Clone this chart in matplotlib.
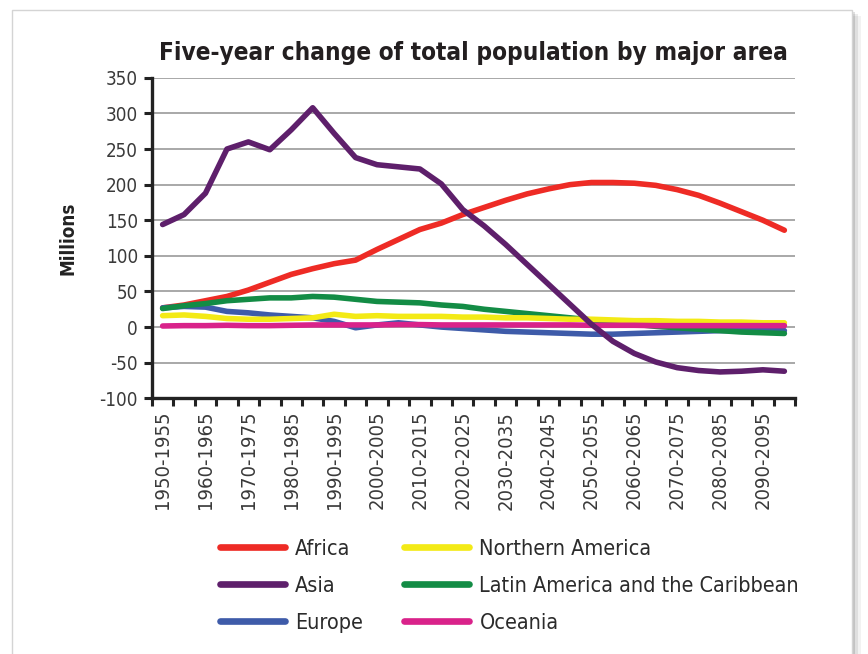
import numpy as np
import matplotlib
matplotlib.use("Agg")
import matplotlib.pyplot as plt
from matplotlib.patches import FancyBboxPatch

plt.rcParams["font.family"] = ["DejaVu Sans"]
plt.rcParams["font.stretch"] = "condensed"
plt.rcParams["axes.unicode_minus"] = False

START_YEARS = list(range(1950, 2100, 5))
PERIODS = [f"{y}-{y + 5}" for y in START_YEARS]

AFRICA = [27, 31, 37, 43, 52, 63, 74, 82, 89, 94, 109, 123, 137, 146, 158,
          168, 178, 187, 194, 200, 203, 203, 202, 199, 193, 185, 174, 162, 150, 136]
ASIA = [144, 158, 188, 250, 260, 249, 277, 308, 272, 238, 228, 225, 222, 201, 165,
        142, 116, 88, 60, 32, 4, -20, -37, -49, -57, -61, -63, -62, -60, -62]
EUROPE = [27, 29, 28, 22, 20, 17, 15, 13, 8, -1, 3, 6, 3, 0, -2,
          -4, -6, -7, -8, -9, -10, -10, -9, -8, -7, -6, -5, -5, -5, -5]
NORTHERN_AMERICA = [16, 17, 15, 12, 11, 11, 12, 13, 18, 15, 16, 15, 15, 15, 14,
                    14, 13, 13, 12, 11, 11, 10, 9, 9, 8, 8, 7, 7, 6, 6]
LATIN_AMERICA = [26, 30, 33, 37, 39, 41, 41, 43, 42, 39, 36, 35, 34, 31, 29,
                 25, 22, 19, 16, 13, 10, 7, 4, 1, -1, -3, -5, -7, -8, -9]
OCEANIA = [1.5, 2, 2, 2.5, 2, 2, 2.5, 3, 3, 3, 3, 3.5, 3.5, 3, 3,
           3, 3, 3, 3, 3, 2.5, 2.5, 2.5, 2, 2, 2, 2, 2, 2, 2]

# drawing order (last on top), legend order is separate
SERIES = [
    ("Africa", AFRICA, "#ee2b25"),
    ("Europe", EUROPE, "#3e5ba9"),
    ("Latin America and the Caribbean", LATIN_AMERICA, "#138c45"),
    ("Northern America", NORTHERN_AMERICA, "#f3ea16"),
    ("Oceania", OCEANIA, "#d9228a"),
    ("Asia", ASIA, "#5e1f6b"),
]
LEGEND_ORDER = ["Africa", "Asia", "Europe", "Northern America",
                "Latin America and the Caribbean", "Oceania"]

fig = plt.figure(figsize=(8.68, 6.54), dpi=100)

# card frame with soft shadow
for off, alpha in [(0.010, 0.05), (0.006, 0.08), (0.003, 0.12)]:
    fig.patches.append(FancyBboxPatch((0.014 + off, -0.05 - off), 0.968, 1.035,
                                      boxstyle="square,pad=0", transform=fig.transFigure,
                                      facecolor="black", edgecolor="none", alpha=alpha, zorder=-3))
fig.patches.append(FancyBboxPatch((0.014, -0.05), 0.968, 1.035, boxstyle="square,pad=0",
                                  transform=fig.transFigure, facecolor="white",
                                  edgecolor="#d4d4d4", linewidth=1.0, zorder=-2))

ax = fig.add_axes([0.175, 0.391, 0.741, 0.49])
ax.set_zorder(1)
ax.patch.set_visible(False)
x = np.arange(len(PERIODS))
handles = {}
for name, values, color in SERIES:
    (line,) = ax.plot(x, values, color=color, linewidth=4.0, solid_capstyle="round",
                      solid_joinstyle="round", label=name)
    handles[name] = line

ax.set_xlim(-0.5, len(PERIODS) - 0.5)
ax.set_ylim(-100, 350)
ax.set_yticks(range(-100, 351, 50))
ax.yaxis.grid(True, color="#9a9a9a", linewidth=1.2)
ax.set_axisbelow(True)

ax.set_xticks(x[::2])
ax.set_xticklabels(PERIODS[::2], rotation=90, fontsize=14.5, color="#3a3a3a")
ax.set_xticks(np.arange(-0.5, len(PERIODS), 1), minor=True)
ax.tick_params(axis="x", which="major", length=0, pad=9)
ax.tick_params(axis="x", which="minor", length=6, width=2.2, color="#222222", direction="out")
ax.tick_params(axis="y", length=6, width=2.2, color="#222222", labelsize=13.5,
               labelcolor="#3a3a3a", pad=4)

for side in ("top", "right"):
    ax.spines[side].set_visible(False)
for side in ("left", "bottom"):
    ax.spines[side].set_linewidth(2.4)
    ax.spines[side].set_color("#222222")

ax.set_ylabel("Millions", fontsize=13.5, fontweight="bold", labelpad=16, color="#222222")
ax.set_title("Five-year change of total population by major area", fontsize=17.5,
             fontweight="bold", color="#231f20", pad=13)

leg = fig.legend([handles[n] for n in LEGEND_ORDER], LEGEND_ORDER, ncol=2,
                 loc="upper left", bbox_to_anchor=(0.236, 0.199), frameon=False,
                 fontsize=15.5, handlelength=3.0, handletextpad=0.5, columnspacing=1.9,
                 labelspacing=0.78, borderpad=0.2)
for line in leg.get_lines():
    line.set_linewidth(4.8)
for text in leg.get_texts():
    text.set_color("#2b2b2b")

fig.savefig("out.png", dpi=100)
